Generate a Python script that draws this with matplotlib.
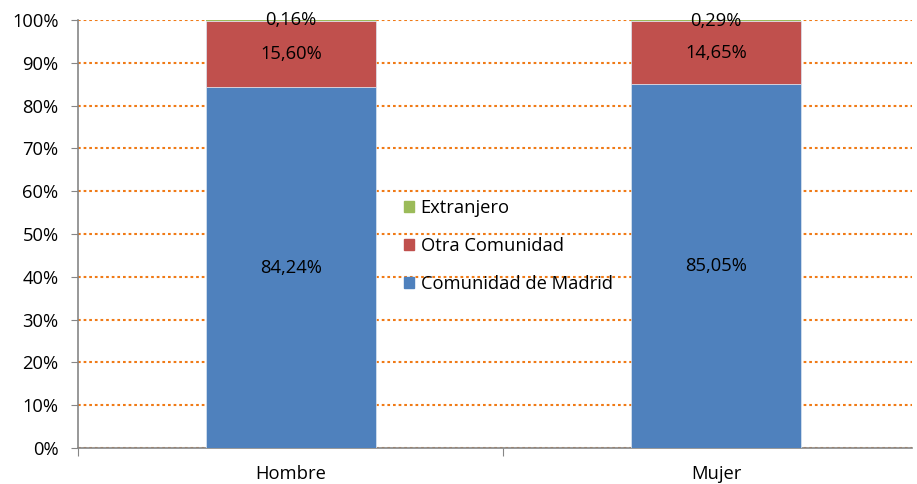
import numpy as np
import matplotlib.pyplot as plt
from matplotlib.patches import Patch

plt.rcParams['font.family'] = ['Open Sans', 'DejaVu Sans']

# Data
categorias = ['Hombre', 'Mujer']
madrid = [84.24, 85.05]
otra = [15.60, 14.65]
extranjero = [0.16, 0.29]

etiquetas_madrid = ['84,24%', '85,05%']
etiquetas_otra = ['15,60%', '14,65%']
etiquetas_ext = ['0,16%', '0,29%']

c_madrid = '#4F81BD'
c_otra = '#C0504D'
c_ext = '#9BBB59'

fs = 13.2

fig = plt.figure(figsize=(9.17, 4.84), dpi=100)
ax = fig.add_axes([0.085, 0.0744, 0.9095, 0.8843])

x = np.arange(len(categorias))
w = 0.4
madrid_a = np.array(madrid)
otra_a = np.array(otra)
ext_a = np.array(extranjero)

ax.bar(x, madrid_a, w, color=c_madrid, edgecolor='#dce6f2', linewidth=0.5, zorder=3)
ax.bar(x, otra_a, w, bottom=madrid_a, color=c_otra, edgecolor='#dce6f2', linewidth=0.5, zorder=3)
ax.bar(x, ext_a, w, bottom=madrid_a + otra_a, color=c_ext, linewidth=0, zorder=3)

# labels
for i in range(len(categorias)):
    ax.text(x[i], madrid_a[i] / 2, etiquetas_madrid[i], ha='center', va='center', fontsize=fs, zorder=4)
    ax.text(x[i], madrid_a[i] + otra_a[i] / 2, etiquetas_otra[i], ha='center', va='center', fontsize=fs, zorder=4)
    ax.text(x[i], madrid_a[i] + otra_a[i] + ext_a[i] / 2, etiquetas_ext[i], ha='center', va='center', fontsize=fs, zorder=4)

ax.set_yticks(np.arange(0, 101, 10))
ax.set_yticklabels([f'{v}%' for v in range(0, 101, 10)], fontsize=fs)
ax.yaxis.grid(True, linestyle=(0, (1.3, 1.4)), color='#F07A16', linewidth=1.5, zorder=1)
ax.set_axisbelow(True)

ax.set_xticks([-0.5, 0.5, 1.5])
ax.set_xticklabels([])
ax.set_xticks(x, minor=True)
ax.set_xticklabels(categorias, minor=True, fontsize=fs)
ax.tick_params(axis='x', which='minor', length=0, pad=12)
ax.tick_params(axis='x', which='major', length=6, color='#868686', direction='out')
ax.tick_params(axis='y', length=5, color='#868686', direction='out', pad=9)

ax.set_ylim(0, 100)
ax.set_xlim(-0.501, 1.461)

for s in ['top', 'right']:
    ax.spines[s].set_visible(False)
for s in ['left', 'bottom']:
    ax.spines[s].set_color('#868686')
    ax.spines[s].set_linewidth(1.2)

handles = [Patch(color=c_ext, label='Extranjero'),
           Patch(color=c_otra, label='Otra Comunidad'),
           Patch(color=c_madrid, label='Comunidad de Madrid')]
leg = ax.legend(handles=handles, loc='center left', bbox_to_anchor=(0.391, 0.472),
                frameon=False, fontsize=fs, handlelength=0.55, handleheight=0.55,
                handletextpad=0.35, labelspacing=1.1, borderpad=0, borderaxespad=0)

plt.savefig('out.png', dpi=100)
